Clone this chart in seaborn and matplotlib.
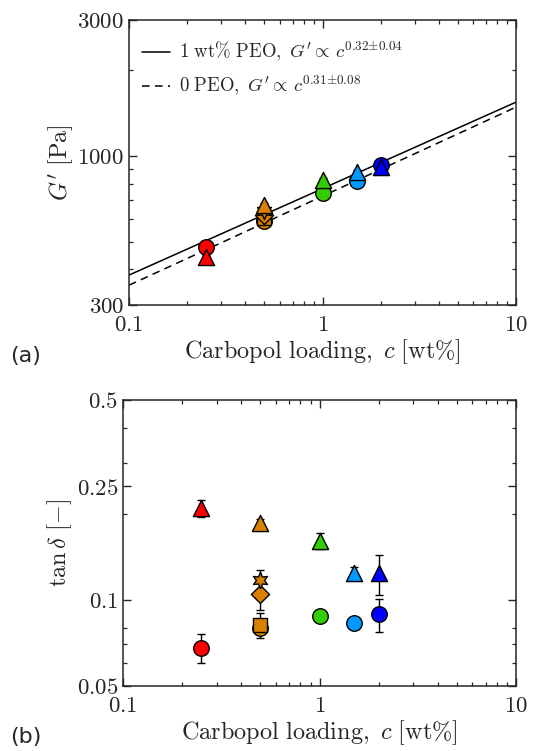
import numpy as np
import pandas as pd
import matplotlib
matplotlib.use("Agg")
import matplotlib.pyplot as plt
from matplotlib.lines import Line2D
from matplotlib.ticker import FuncFormatter, FixedLocator, NullFormatter
import seaborn as sns

# ---------------- data ----------------
conc = [0.25, 0.25, 0.5, 0.5, 0.5, 0.5, 0.5, 1.0, 1.0, 1.5, 1.5, 2.0, 2.0]
series = ["r_o", "r_^", "o_o", "o_s", "o_D", "o_h", "o_^", "g_o", "g_^", "c_o", "c_^", "b_o", "b_^"]
g_prime = [480, 442, 590, 605, 620, 640, 673, 741, 824, 816, 880, 928, 912]
g_err = [12, 8, 10, 8, 10, 12, 10, 10, 12, 10, 12, 25, 40]
tan_delta = [0.068, 0.209, 0.0798, 0.0817, 0.105, 0.1175, 0.186, 0.088, 0.161, 0.083, 0.124, 0.089, 0.124]
tan_err = [0.0078, 0.014, 0.002, 0.008, 0.013, 0.010, 0.006, 0.002, 0.010, 0.002, 0.006, 0.012, 0.020]

fit_c = [0.1, 10.0]
fit_peo = [382, 1545]
fit_nopeo = [352, 1484]

colors = {"r": "#FF0000", "o": "#D98000", "g": "#33CC00", "c": "#0099FF", "b": "#0000FF"}
marker_map = {"o": "o", "^": "^", "s": "s", "D": "D", "h": (6, 1, 0)}

df = pd.DataFrame({"c": conc, "series": series, "G": g_prime, "Gerr": g_err,
                   "tan": tan_delta, "tanerr": tan_err})
palette = {s: colors[s.split("_")[0]] for s in series}
markers = {s: marker_map[s.split("_")[1]] for s in series}
sizes = {"o": 125, "^": 135, "s": 100, "D": 85, "h": 135}

# ---------------- style ----------------
sns.set_theme(style="ticks")
plt.rcParams.update({
    "font.family": ["DejaVu Serif"],
    "mathtext.fontset": "cm",
    "axes.linewidth": 1.1,
    "axes.edgecolor": "#262626",
    "xtick.direction": "in", "ytick.direction": "in",
    "xtick.top": True, "ytick.right": True,
    "xtick.major.size": 5.5, "ytick.major.size": 5.5,
    "xtick.minor.size": 3, "ytick.minor.size": 3,
    "xtick.major.width": 1.0, "ytick.major.width": 1.0,
    "xtick.minor.width": 0.9, "ytick.minor.width": 0.9,
    "xtick.color": "#262626", "ytick.color": "#262626",
})
TXT = "#262626"
FS_TICK = 16.5
FS_LAB = 17.5

fig = plt.figure(figsize=(5.33, 7.51), dpi=100)
W, H = 533, 751
ax1 = fig.add_axes([129 / W, 1 - 305 / H, (516 - 129) / W, 285 / H])
ax2 = fig.add_axes([123 / W, 1 - 686 / H, (516 - 123) / W, 286 / H])

fmt = FuncFormatter(lambda v, p: r"$%g$" % v)


def draw_points(ax, ycol, ecol):
    for _, r in df.iterrows():
        ax.errorbar(r["c"], r[ycol], yerr=r[ecol], fmt="none", ecolor="black",
                    elinewidth=1.0, capsize=3, capthick=1.0, zorder=2)
    for s in series:
        sub = df[df["series"] == s]
        mk = s.split("_")[1]
        sns.scatterplot(data=sub, x="c", y=ycol, hue="series", style="series",
                        palette=palette, markers=markers, s=sizes[mk],
                        edgecolor="black", linewidth=1.0, legend=False,
                        ax=ax, zorder=3)


def style_axis(ax):
    ax.xaxis.set_major_locator(FixedLocator([0.1, 1, 10]))
    ax.xaxis.set_minor_locator(FixedLocator([0.2, 0.3, 0.4, 0.5, 0.6, 0.7, 0.8, 0.9,
                                             2, 3, 4, 5, 6, 7, 8, 9]))
    for a in (ax.xaxis, ax.yaxis):
        a.set_major_formatter(fmt)
        a.set_minor_formatter(NullFormatter())
    ax.tick_params(axis="x", labelsize=FS_TICK, colors=TXT, pad=6.5)
    ax.tick_params(axis="y", labelsize=FS_TICK, colors=TXT, pad=3.5)
    for sp in ax.spines.values():
        sp.set_visible(True)
    ax.set_xlabel(r"$\mathrm{Carbopol\ loading,}\ c\ [\mathrm{wt\%}]$",
                  fontsize=FS_LAB, color=TXT, labelpad=1)


# ---------------- panel (a) ----------------
ax1.set_xscale("log")
ax1.set_yscale("log")
sns.lineplot(x=fit_c, y=fit_peo, ax=ax1, color="black", lw=1.1, zorder=1)
sns.lineplot(x=fit_c, y=fit_nopeo, ax=ax1, color="black", lw=1.1,
             linestyle=(0, (5, 3.5)), zorder=1)
draw_points(ax1, "G", "Gerr")
ax1.set_xlim(0.1, 10)
ax1.set_ylim(300, 3000)
ax1.yaxis.set_major_locator(FixedLocator([300, 1000, 3000]))
ax1.yaxis.set_minor_locator(FixedLocator([400, 500, 600, 700, 800, 900, 2000]))
style_axis(ax1)
ax1.set_ylabel(r"$G^{\prime}\ [\mathrm{Pa}]$", fontsize=FS_LAB, color=TXT, labelpad=1)

handles = [Line2D([], [], color="black", lw=1.1),
           Line2D([], [], color="black", lw=1.1, linestyle=(0, (5, 3.5)))]
labels = [r"$\mathrm{1\ wt\%\ PEO,}\ G^{\prime}{\propto}\,c^{0.32{\pm}0.04}$",
          r"$\mathrm{0\ PEO,}\ G^{\prime}{\propto}\,c^{0.31{\pm}0.08}$"]
ax1.legend(handles, labels, loc="upper left", frameon=False, fontsize=13.5,
           handlelength=1.5, handletextpad=0.45, labelspacing=0.5,
           bbox_to_anchor=(0.0, 0.975), labelcolor=TXT, borderaxespad=0.3)

# ---------------- panel (b) ----------------
ax2.set_xscale("log")
ax2.set_yscale("log")
draw_points(ax2, "tan", "tanerr")
ax2.set_xlim(0.1, 10)
ax2.set_ylim(0.05, 0.5)
ax2.yaxis.set_major_locator(FixedLocator([0.05, 0.1, 0.25, 0.5]))
ax2.yaxis.set_minor_locator(FixedLocator([0.06, 0.07, 0.08, 0.2, 0.3, 0.4]))
style_axis(ax2)
ax2.set_ylabel(r"$\tan\delta\ [-]$", fontsize=FS_LAB, color=TXT, labelpad=2)

fig.text(10 / W, 1 - 356 / H, "(a)", fontsize=16, family="DejaVu Sans", color=TXT, va="center")
fig.text(10 / W, 1 - 737 / H, "(b)", fontsize=16, family="DejaVu Sans", color=TXT, va="center")

fig.savefig("out.png", dpi=100)
